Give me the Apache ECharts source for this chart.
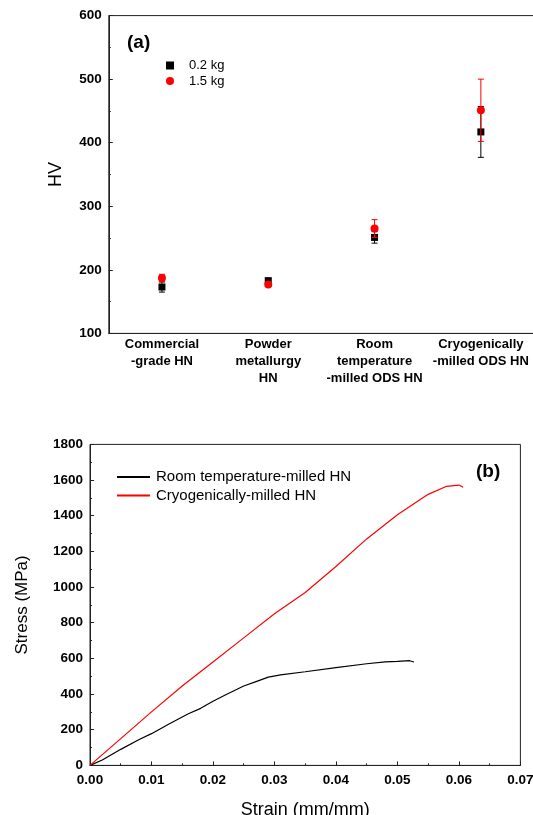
<!DOCTYPE html>
<html>
<head>
<meta charset="utf-8">
<script src="https://cdn.jsdelivr.net/npm/echarts@6/dist/echarts.min.js"></script>
<style>
html,body{margin:0;padding:0;background:#fff;}
#c{width:533px;height:815px;}
</style>
</head>
<body>
<div id="c"></div>
<script>
// ---- Panel (a): Vickers hardness ----
var categories = ['Commercial\n-grade HN', 'Powder\nmetallurgy\nHN', 'Room\ntemperature\n-milled ODS HN', 'Cryogenically\n-milled ODS HN'];
var hv02 = [173, 183, 251, 417];
var hv02Err = [8, 3, 9, 40];
var hv15 = [187, 177, 265, 451];
var hv15Err = [6, 3, 14, 49];

// ---- Panel (b): stress-strain ----
var roomStrain = [0, 0.002, 0.005, 0.008, 0.010, 0.013, 0.016, 0.018, 0.020, 0.022, 0.025, 0.027, 0.029, 0.031, 0.035, 0.040, 0.045, 0.048, 0.050, 0.052, 0.0527];
var roomStress = [0, 30, 90, 145, 178, 235, 290, 320, 360, 395, 445, 470, 495, 508, 525, 548, 570, 580, 583, 587, 580];
var cryoStrain = [0, 0.005, 0.010, 0.015, 0.020, 0.025, 0.030, 0.035, 0.040, 0.045, 0.050, 0.055, 0.058, 0.060, 0.0607];
var cryoStress = [0, 150, 300, 445, 580, 715, 850, 970, 1115, 1270, 1405, 1520, 1565, 1572, 1560];

function zip(a, b) { return a.map(function (v, i) { return [v, b[i]]; }); }
function errData(vals, errs) { return vals.map(function (v, i) { return [i, v, errs[i]]; }); }

function errRender(color) {
  return function (params, api) {
    var x = api.value(0), y = api.value(1), e = api.value(2);
    var top = api.coord([x, y + e]);
    var bot = api.coord([x, y - e]);
    var hw = 3;
    var st = { stroke: color, lineWidth: 1 };
    return {
      type: 'group',
      children: [
        { type: 'line', shape: { x1: top[0], y1: top[1], x2: bot[0], y2: bot[1] }, style: st },
        { type: 'line', shape: { x1: top[0] - hw, y1: top[1], x2: top[0] + hw, y2: top[1] }, style: st },
        { type: 'line', shape: { x1: bot[0] - hw, y1: bot[1], x2: bot[0] + hw, y2: bot[1] }, style: st }
      ]
    };
  };
}

var FONT = 'Liberation Sans, Arial, sans-serif';
var AX = '#222';
var tickLabel = { color: '#000', fontFamily: FONT, fontWeight: 'bold', fontSize: 13.5, formatter: function (v) { return String(v); } };

var chart = echarts.init(document.getElementById('c'));
chart.setOption({
  animation: false,
  backgroundColor: '#fff',
  textStyle: { fontFamily: FONT },
  title: [
    { text: '(a)', left: 122, top: 28, textStyle: { fontFamily: FONT, fontSize: 19, fontWeight: 'bold', color: '#000' } },
    { text: '(b)', left: 471, top: 457, textStyle: { fontFamily: FONT, fontSize: 19, fontWeight: 'bold', color: '#000' } }
  ],
  grid: [
    { left: 108.8, top: 15.6, right: -1, height: 317.8, show: true, borderColor: AX, borderWidth: 1, backgroundColor: 'transparent', containLabel: false, outerBoundsMode: 'none' },
    { left: 90, top: 444.4, width: 430.4, height: 321, show: true, borderColor: AX, borderWidth: 1, backgroundColor: 'transparent', containLabel: false, outerBoundsMode: 'none' }
  ],
  legend: [
    {
      data: ['0.2 kg', '1.5 kg'], orient: 'vertical', left: 161, top: 54,
      itemWidth: 8, itemHeight: 8, itemGap: 2.5,
      textStyle: { fontFamily: FONT, fontSize: 13, color: '#000', lineHeight: 13, padding: [0, 0, 0, 10] }
    },
    {
      data: ['Room temperature-milled HN', 'Cryogenically-milled HN'], orient: 'vertical', left: 112, top: 464.5,
      itemWidth: 33, itemHeight: 2, itemGap: 3.5, icon: 'rect',
      textStyle: { fontFamily: FONT, fontSize: 15, color: '#000', lineHeight: 15, padding: [0, 0, 0, 1] }
    }
  ],
  xAxis: [
    {
      gridIndex: 0, type: 'category', data: categories, boundaryGap: true,
      axisLine: { lineStyle: { color: AX, width: 1 } },
      axisTick: { alignWithLabel: true, inside: true, length: 4, lineStyle: { color: AX } },
      axisLabel: { interval: 0, margin: 3, color: '#000', fontFamily: FONT, fontWeight: 'bold', fontSize: 13, lineHeight: 16.8 },
      splitLine: { show: false }
    },
    {
      gridIndex: 0, type: 'category', data: categories, boundaryGap: true, position: 'bottom',
      axisLine: { show: false },
      axisTick: { alignWithLabel: false, inside: true, length: 2, lineStyle: { color: AX } },
      axisLabel: { show: false }, splitLine: { show: false }
    },
    {
      gridIndex: 1, type: 'value', min: 0, max: 0.07, interval: 0.01,
      name: 'Strain (mm/mm)', nameLocation: 'middle', nameGap: 36,
      nameTextStyle: { fontFamily: FONT, fontSize: 18, color: '#000' },
      axisLine: { lineStyle: { color: AX, width: 1 } },
      axisTick: { inside: true, length: 4, lineStyle: { color: AX } },
      minorTick: { show: true, splitNumber: 2, length: 2, lineStyle: { color: AX } },
      axisLabel: Object.assign({}, tickLabel, { margin: 8, formatter: function (v) { return v.toFixed(2); } }),
      splitLine: { show: false }, minorSplitLine: { show: false }
    }
  ],
  yAxis: [
    {
      gridIndex: 0, type: 'value', min: 100, max: 600, interval: 100,
      name: 'HV', nameLocation: 'middle', nameGap: 44,
      nameTextStyle: { fontFamily: FONT, fontSize: 18, color: '#000' },
      axisLine: { show: true, lineStyle: { color: AX, width: 1 } },
      axisTick: { show: true, inside: true, length: 4, lineStyle: { color: AX } },
      minorTick: { show: true, splitNumber: 2, length: 2, lineStyle: { color: AX } },
      axisLabel: Object.assign({}, tickLabel, { margin: 7 }),
      splitLine: { show: false }, minorSplitLine: { show: false }
    },
    {
      gridIndex: 1, type: 'value', min: 0, max: 1800, interval: 200,
      name: 'Stress (MPa)', nameLocation: 'middle', nameGap: 59,
      nameTextStyle: { fontFamily: FONT, fontSize: 17, color: '#000' },
      axisLine: { show: true, lineStyle: { color: AX, width: 1 } },
      axisTick: { show: true, inside: true, length: 4, lineStyle: { color: AX } },
      minorTick: { show: true, splitNumber: 2, length: 2, lineStyle: { color: AX } },
      axisLabel: Object.assign({}, tickLabel, { margin: 7 }),
      splitLine: { show: false }, minorSplitLine: { show: false }
    }
  ],
  series: [
    {
      name: '0.2 kg err', type: 'custom', xAxisIndex: 0, yAxisIndex: 0,
      renderItem: errRender('#000'), data: errData(hv02, hv02Err), z: 2
    },
    {
      name: '0.2 kg', type: 'scatter', xAxisIndex: 0, yAxisIndex: 0,
      symbol: 'rect', symbolSize: 7, itemStyle: { color: '#000', opacity: 1 },
      data: hv02, z: 3
    },
    {
      name: '1.5 kg err', type: 'custom', xAxisIndex: 0, yAxisIndex: 0,
      renderItem: errRender('#ff0000'), data: errData(hv15, hv15Err), z: 4
    },
    {
      name: '1.5 kg', type: 'scatter', xAxisIndex: 0, yAxisIndex: 0,
      symbol: 'circle', symbolSize: 8, itemStyle: { color: '#ff0000', opacity: 1 },
      data: hv15, z: 5
    },
    {
      name: 'Room temperature-milled HN', type: 'line', xAxisIndex: 2, yAxisIndex: 1,
      showSymbol: false, symbol: 'none', lineStyle: { color: '#000', width: 1.2 }, itemStyle: { color: '#000' },
      data: zip(roomStrain, roomStress), z: 3
    },
    {
      name: 'Cryogenically-milled HN', type: 'line', xAxisIndex: 2, yAxisIndex: 1,
      showSymbol: false, symbol: 'none', lineStyle: { color: '#ff0000', width: 1.2 }, itemStyle: { color: '#ff0000' },
      data: zip(cryoStrain, cryoStress), z: 4
    }
  ]
});
</script>
</body>
</html>
